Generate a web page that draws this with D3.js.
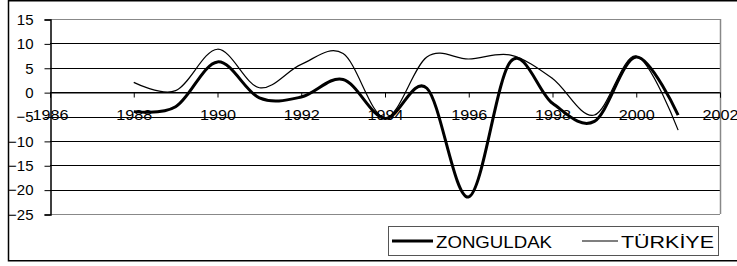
<!DOCTYPE html>
<html>
<head>
<meta charset="utf-8">
<script src="https://cdn.jsdelivr.net/npm/d3@7"></script>
<style>
  body { margin: 0; background: #fff; }
  text { font-family: "Liberation Sans", Arial, sans-serif; }
</style>
</head>
<body>
<svg id="chart" width="737" height="266"></svg>
<script>
// yillar ve seriler
var years = [1988, 1989, 1990, 1991, 1992, 1993, 1994, 1995, 1996, 1997, 1998, 1999, 2000, 2001]
var zonguldak = [-4.0, -3.0, 6.2, -1.2, -1.0, 2.6, -5.4, 0.8, -21.5, 6.3, -2.3, -6.0, 7.2, -4.7]
var turkiye = [2.0, 0.3, 8.8, 0.9, 5.7, 7.9, -5.3, 7.2, 6.8, 7.6, 2.8, -4.7, 7.4, -7.8]
var xTicks = [1986, 1988, 1990, 1992, 1994, 1996, 1998, 2000, 2002]
var yTicks = [15, 10, 5, 0, -5, -10, -15, -20, -25]
var seriesNames = ['ZONGULDAK', 'TÜRKİYE']

var svg = d3.select('#chart')

var x = d3.scaleLinear().domain([1986, 2002]).range([50, 720])
var y = d3.scaleLinear().domain([-25, 15]).range([214, 19])

// dis cerceve
svg.append('rect')
  .attr('x', 8.5).attr('y', 0.75)
  .attr('width', 760).attr('height', 260)
  .attr('fill', 'none').attr('stroke', '#000').attr('stroke-width', 1.5)

// yatay kilavuz cizgileri
svg.append('g')
  .selectAll('line')
  .data(yTicks)
  .enter()
  .append('line')
  .attr('x1', x(1986)).attr('x2', x(2002))
  .attr('y1', function(d) { return Math.round(y(d)) + 0.5 })
  .attr('y2', function(d) { return Math.round(y(d)) + 0.5 })
  .attr('stroke', function(d) { return d == 15 || d == -25 ? '#888' : '#000' })
  .attr('stroke-width', 1)

// sag kenar
svg.append('line')
  .attr('x1', x(2002) + 0.5).attr('x2', x(2002) + 0.5)
  .attr('y1', y(15)).attr('y2', y(-25))
  .attr('stroke', '#888').attr('stroke-width', 1.5)

// y ekseni
var yAxis = d3.axisLeft(y).tickValues(yTicks).tickSize(6).tickPadding(11)
var gy = svg.append('g')
  .attr('transform', 'translate(' + (x(1986) + 0.5) + ',0.5)')
  .call(yAxis)
gy.select('.domain').attr('stroke', '#000').attr('stroke-width', 1.5)
gy.selectAll('.tick line').attr('stroke', '#000')
gy.selectAll('.tick text')
  .attr('font-size', 15)
  .attr('fill', '#000')
  .attr('font-family', '"Liberation Sans", Arial, sans-serif')

// x ekseni (0 noktasinda)
var xAxis = d3.axisBottom(x).tickValues(xTicks).tickFormat(d3.format('d')).tickSize(5).tickPadding(12)
var gx = svg.append('g')
  .attr('transform', 'translate(0,' + (Math.round(y(0)) + 0.5) + ')')
  .call(xAxis)
gx.select('.domain').attr('stroke', '#000').attr('stroke-width', 1)
gx.selectAll('.tick line').attr('stroke', '#000')
gx.selectAll('.tick text')
  .attr('font-size', 15)
  .attr('fill', '#000')
  .attr('textLength', 36)
  .attr('lengthAdjust', 'spacingAndGlyphs')
  .attr('font-family', '"Liberation Sans", Arial, sans-serif')

var line = d3.line()
  .x(function(d) { return x(d[0]) })
  .y(function(d) { return y(d[1]) })
  .curve(d3.curveCardinal.tension(0))

svg.append('path')
  .datum(d3.zip(years, turkiye))
  .attr('d', line)
  .attr('fill', 'none')
  .attr('stroke', '#000')
  .attr('stroke-width', 1.2)

svg.append('path')
  .datum(d3.zip(years, zonguldak))
  .attr('d', line)
  .attr('fill', 'none')
  .attr('stroke', '#000')
  .attr('stroke-width', 3)

// lejant
var legend = svg.append('g')
legend.append('rect')
  .attr('x', 388.5).attr('y', 226.5)
  .attr('width', 330).attr('height', 29)
  .attr('fill', '#fff').attr('stroke', '#555').attr('stroke-width', 1)

var legendItems = [
  { name: seriesNames[0], x0: 392, x1: 433, w: 3, tw: 116 },
  { name: seriesNames[1], x0: 582, x1: 618, w: 1.2, tw: 93 }
]
legendItems.forEach(function(it) {
  legend.append('line')
    .attr('x1', it.x0).attr('x2', it.x1)
    .attr('y1', 241).attr('y2', 241)
    .attr('stroke', '#000').attr('stroke-width', it.w)
  legend.append('text')
    .attr('x', it.x1 + 3).attr('y', 247.5)
    .attr('font-size', 17)
    .attr('fill', '#000')
    .attr('textLength', it.tw)
    .attr('lengthAdjust', 'spacingAndGlyphs')
    .text(it.name)
})
</script>
</body>
</html>
